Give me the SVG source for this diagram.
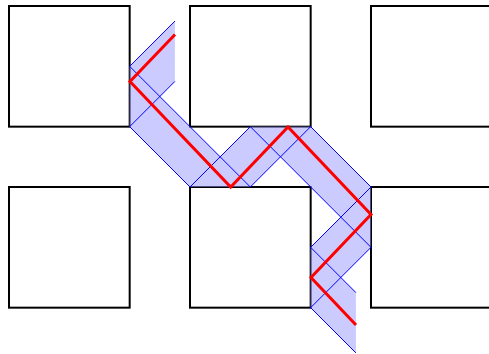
<svg xmlns="http://www.w3.org/2000/svg" width="489" height="354" viewBox="0 0 489 354">
<style>
.sq{fill:none;stroke:#000;stroke-width:2}
.band{fill:#9999ff}
.ray{fill:none;stroke:#0000ff;stroke-width:1}
.red{fill:none;stroke:#ff0000;stroke-width:3}
</style>
<rect width="489" height="354" fill="#fff"/>
<g id="sq1"><rect class="sq" x="9" y="6" width="120.67" height="120.67"/></g>
<g id="sq2"><rect class="sq" x="190" y="6" width="120.67" height="120.67"/></g>
<g id="sq3"><rect class="sq" x="371" y="6" width="120.67" height="120.67"/></g>
<g id="sq4"><rect class="sq" x="9" y="187" width="120.67" height="120.67"/></g>
<g id="sq5"><rect class="sq" x="190" y="187" width="120.67" height="120.67"/></g>
<g id="sq6"><rect class="sq" x="371" y="187" width="120.67" height="120.67"/></g>
<g id="connectors">
<g id="beam" opacity="0.5">
<polygon class="band" points="174.92,21.08 129.67,66.33 129.67,126.67 174.92,81.42"/>
<polygon class="band" points="129.67,66.33 250.33,187 190,187 129.67,126.67"/>
<polygon class="band" points="190,187 250.33,187 310.67,126.67 250.33,126.67"/>
<polygon class="band" points="250.33,126.67 310.67,126.67 371,187 371,247.33"/>
<polygon class="band" points="371,187 371,247.33 310.67,307.67 310.67,247.33"/>
<polygon class="band" points="310.67,247.33 355.92,292.58 355.92,352.92 310.67,307.67"/>
</g>
<polyline class="ray" points="174.92,21.08 129.67,66.33 250.33,187 310.67,126.67 371,187 310.67,247.33 355.92,292.58"/>
<polyline class="ray" points="174.92,81.42 129.67,126.67 190,187 250.33,126.67 371,247.33 310.67,307.67 355.92,352.92"/>
<polyline class="red" points="175,34.5 130,81.5 230.7,187 288,127 371,214.5 311,277.5 356,325"/>
</g>
</svg>
